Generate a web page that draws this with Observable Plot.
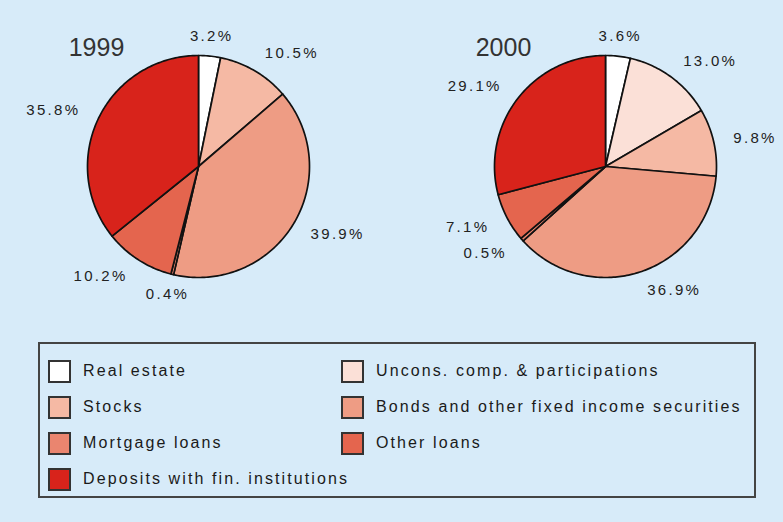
<!DOCTYPE html>
<html>
<head>
<meta charset="utf-8">
<script src="https://cdn.jsdelivr.net/npm/d3@7"></script>
<script src="https://cdn.jsdelivr.net/npm/@observablehq/plot@0.6"></script>
<style>
  html, body { margin: 0; padding: 0; background: #D7EBF9; }
  body { width: 783px; height: 522px; overflow: hidden; font-family: "Liberation Sans", Arial, sans-serif; }
  #chart svg { display: block; letter-spacing: 2.3px; }
  .legend {
    box-sizing: border-box;
    margin: 12px 0 0 38px;
    width: 718px; height: 156px;
    border: 2px solid #444;
    padding: 9px 0 0 8px;
    display: grid;
    grid-template-columns: 293px 1fr;
    grid-auto-rows: 36px;
  }
  .item { display: flex; align-items: center; font-size: 16px; letter-spacing: 2.1px; color: #1a1a1a; white-space: nowrap; }
  .sw { box-sizing: border-box; width: 23px; height: 23px; border: 2px solid #333; margin-right: 12px; flex: none; }
</style>
</head>
<body>
<div id="chart"></div>
<script>
// ---- data ----
const categories = [
  "Real estate",
  "Uncons. comp. & participations",
  "Stocks",
  "Bonds and other fixed income securities",
  "Mortgage loans",
  "Other loans",
  "Deposits with fin. institutions"
];
const years = ["1999", "2000"];
const values1999 = [3.2, 0, 10.5, 39.9, 0.4, 10.2, 35.8];
const values2000 = [3.6, 13.0, 9.8, 36.9, 0.5, 7.1, 29.1];
const colors = ["#FFFFFF", "#FBE0D7", "#F5B9A4", "#EE9C84", "#EA856F", "#E4654E", "#D8231B"];

// ---- layout ----
const W = 783, H = 330;
const R = 111;          // pie radius in px
const facetW = 300;     // facet band width in px
const cy = 166;         // pie centre from top in px
const labelR = 1.18;    // label radius (in pie radii)

const valuesByYear = [values1999, values2000];
const slices = [];
const labels = [];
years.forEach((yr, yi) => {
  const arcs = d3.pie().sort(null).value(d => d)(valuesByYear[yi]);
  arcs.forEach((a, i) => {
    if (a.value <= 0) return;
    const key = yr + "-" + i;
    const n = Math.max(2, Math.ceil((a.endAngle - a.startAngle) / (Math.PI / 180)));
    slices.push({year: yr, cat: categories[i], key, x: 0, y: 0});
    for (let k = 0; k <= n; k++) {
      const t = a.startAngle + (a.endAngle - a.startAngle) * k / n;
      slices.push({year: yr, cat: categories[i], key, x: Math.sin(t), y: Math.cos(t)});
    }
    slices.push({year: yr, cat: categories[i], key, x: 0, y: 0});
    const m = (a.startAngle + a.endAngle) / 2;
    const s = Math.sin(m);
    labels.push({
      year: yr,
      x: labelR * s,
      y: labelR * Math.cos(m),
      text: a.value.toFixed(1) + "%",
      side: Math.abs(s) < 0.3 ? "middle" : (s > 0 ? "start" : "end")
    });
  });
});

const textOpts = {x: "x", y: "y", fx: "year", text: "text", fontSize: 15, fill: "#222"};

const plot = Plot.plot({
  width: W,
  height: H,
  marginLeft: 48,
  marginRight: 28,
  marginTop: 0,
  marginBottom: 0,
  style: {background: "transparent", fontFamily: "'Liberation Sans', Arial, sans-serif", overflow: "visible"},
  fx: {domain: years, paddingInner: 107 / 407, paddingOuter: 0, round: false, axis: null, label: null},
  x: {domain: [-facetW / 2 / R, facetW / 2 / R], axis: null},
  y: {domain: [-(H - cy) / R, cy / R], axis: null},
  color: {domain: categories, range: colors},
  marks: [
    Plot.line(slices, {x: "x", y: "y", fx: "year", z: "key", fill: "cat", stroke: "#111", strokeWidth: 1.7, strokeLinejoin: "round", curve: "linear"}),
    Plot.text(labels.filter(d => d.side === "middle"), {...textOpts, textAnchor: "middle"}),
    Plot.text(labels.filter(d => d.side === "start"), {...textOpts, textAnchor: "start"}),
    Plot.text(labels.filter(d => d.side === "end"), {...textOpts, textAnchor: "end"}),
    Plot.text(years, {fx: d => d, text: d => d, frameAnchor: "top-left", dx: 48, dy: 38, textAnchor: "middle", fontSize: 25, fill: "#333"})
  ]
});
// year titles: no extra letter spacing
plot.querySelectorAll('[font-size="25"]').forEach(el => { el.style.letterSpacing = "0px"; });
document.getElementById("chart").appendChild(plot);

// ---- legend ----
const legend = document.createElement("div");
legend.className = "legend";
categories.forEach((c, i) => {
  const item = document.createElement("div");
  item.className = "item";
  const sw = document.createElement("span");
  sw.className = "sw";
  sw.style.background = colors[i];
  const lab = document.createElement("span");
  lab.textContent = c;
  item.appendChild(sw);
  item.appendChild(lab);
  legend.appendChild(item);
});
document.getElementById("chart").appendChild(legend);
</script>
</body>
</html>
